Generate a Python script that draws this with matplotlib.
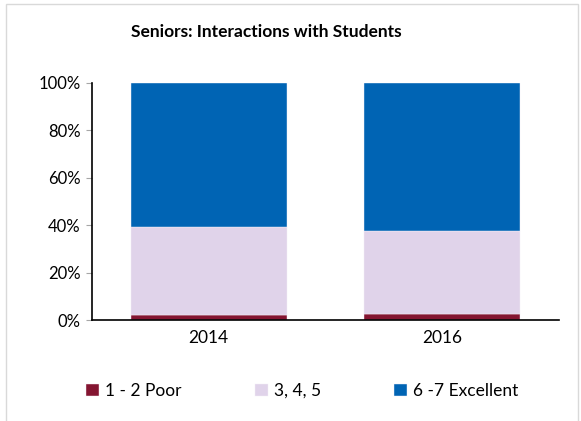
import matplotlib.pyplot as plt
from matplotlib.patches import Rectangle
from matplotlib.ticker import PercentFormatter

years = ["2014", "2016"]
poor = [2.1, 2.6]
middle = [37.0, 35.1]
excellent = [60.9, 62.3]

labels = ["1 - 2 Poor", "3, 4, 5", "6 -7 Excellent"]
colors = ["#841531", "#E0D3EA", "#0064B4"]

plt.rcParams["font.family"] = ["Lato", "DejaVu Sans"]

fig = plt.figure(figsize=(5.81, 4.21), dpi=100)
ax = fig.add_axes([0.1583, 0.2399, 0.8038, 0.563])

# chart frame
fig.patches.append(Rectangle((0.010, -0.01), 0.985, 1.0, transform=fig.transFigure,
                             fill=False, edgecolor="#D9D9D9", linewidth=1))

x = range(len(years))
bottom = [0] * len(years)
for vals, lab, col in zip([poor, middle, excellent], labels, colors):
    ax.bar(x, vals, bottom=bottom, width=0.67, color=col, edgecolor="#F4F0F8",
           linewidth=0.3, label=lab)
    bottom = [b + v for b, v in zip(bottom, vals)]

ax.set_xlim(-0.5, 1.5)
ax.set_ylim(0, 100)
ax.set_yticks(range(0, 101, 20))
ax.yaxis.set_major_formatter(PercentFormatter(decimals=0))
ax.set_xticks(list(x))
ax.set_xticklabels(years)
ax.tick_params(axis="x", length=0, labelsize=12.5, pad=7)
ax.tick_params(axis="y", length=4, color="#A6A6A6", labelsize=12, pad=4)

for side in ["top", "right"]:
    ax.spines[side].set_visible(False)
ax.spines["left"].set_linewidth(1.2)
ax.spines["bottom"].set_linewidth(1.2)

fig.text(0.458, 0.925, "Seniors: Interactions with Students", ha="center",
         va="center", fontsize=12.5, fontweight="bold")

fig.legend(loc="center", bbox_to_anchor=(0.52, 0.071), ncol=3, frameon=False,
           fontsize=12.5, handlelength=0.75, handleheight=0.75, handletextpad=0.35,
           columnspacing=4.2)

fig.savefig("out.png", dpi=100)
